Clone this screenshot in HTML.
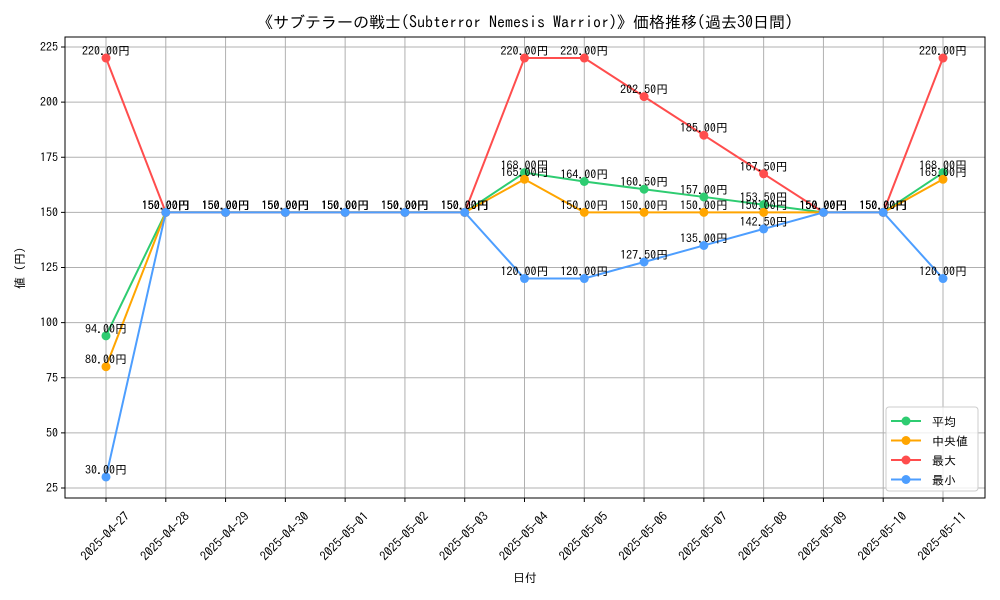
<!DOCTYPE html>
<html><head><meta charset="utf-8"><style>
html,body{margin:0;padding:0;background:#fff;}
svg{display:block;font-family:"IPAGothic","Liberation Sans","Noto Sans CJK JP",sans-serif;}
</style></head><body>
<svg id="chart" width="1000" height="600" xmlns="http://www.w3.org/2000/svg">
<text x="525" y="28" text-anchor="middle" font-size="16">《サブテラーの戦士(Subterror Nemesis Warrior)》価格推移(過去30日間)</text>
<g id="grid"></g><g id="axes"></g><g id="series"></g><g id="labels"></g>
<text x="525" y="582" text-anchor="middle" font-size="12">日付</text>
<text x="0" y="0" transform="translate(24,268) rotate(-90)" text-anchor="middle" font-size="12">値 (円)</text>
<g>
<rect x="886" y="407" width="92" height="84" rx="3" fill="#fff" fill-opacity="0.8" stroke="#ccc"/>
<g id="legend-items"></g>
</g>
</svg>
<script>
const dates=["2025-04-27","2025-04-28","2025-04-29","2025-04-30","2025-05-01","2025-05-02","2025-05-03","2025-05-04","2025-05-05","2025-05-06","2025-05-07","2025-05-08","2025-05-09","2025-05-10","2025-05-11"];
const avgVals=[94,150,150,150,150,150,150,168,164,160.5,157,153.5,150,150,168];
const medVals=[80,150,150,150,150,150,150,165,150,150,150,150,150,150,165];
const maxVals=[220,150,150,150,150,150,150,220,220,202.5,185,167.5,150,150,220];
const minVals=[30,150,150,150,150,150,150,120,120,127.5,135,142.5,150,150,120];
const yTicks=[25,50,75,100,125,150,175,200,225];
const seriesNames=["平均","中央値","最大","最小"];
const ns="http://www.w3.org/2000/svg";
const L=65,R=985,T=37,B=498;
const x=i=>106+i*(943-106)/(dates.length-1);
const y=v=>488-(v-25)*(441/200);
function mk(tag,attrs,parent,text){const e=document.createElementNS(ns,tag);for(const k in attrs)e.setAttribute(k,attrs[k]);if(text!==undefined)e.textContent=text;parent.appendChild(e);return e;}
const grid=document.getElementById('grid'),axes=document.getElementById('axes');
dates.forEach((d,i)=>{
 const g=mk('line',{x1:x(i),x2:x(i),y1:T,y2:B,stroke:'#b0b0b0','stroke-width':1},grid);
 
 
 mk('line',{x1:x(i),x2:x(i),y1:B,y2:B+4,stroke:'#000'},axes);
 const t=mk('text',{x:0,y:0,'font-size':12.5,'text-anchor':'middle','dominant-baseline':'central',transform:`translate(${x(i)-1},${536}) rotate(-45)`},axes,d);
 
 
});
yTicks.forEach(v=>{
 const g=mk('line',{x1:L,x2:R,y1:y(v),y2:y(v),stroke:'#b0b0b0','stroke-width':1},grid);
 
 
 mk('line',{x1:L-4,x2:L,y1:y(v),y2:y(v),stroke:'#000'},axes);
 const t=mk('text',{x:L-7,y:y(v)+4,'font-size':12,'text-anchor':'end'},axes,String(v));
 
 
});
const frame=mk('rect',{x:L,y:T,width:R-L,height:B-T,fill:'none',stroke:'#000','stroke-width':1},axes);


const all=[avgVals,medVals,maxVals,minVals];
const colors=["#2ecc71","#ffa500","#ff4d4d","#4d9eff"];
const sg=document.getElementById('series'),lg=document.getElementById('labels'),li=document.getElementById('legend-items');
all.forEach((vals,s)=>{
 const p=mk('polyline',{points:vals.map((v,i)=>x(i)+','+y(v)).join(' '),fill:'none',stroke:colors[s],'stroke-width':2},sg);
 
 
 vals.forEach((v,i)=>{
  const c=mk('circle',{cx:x(i),cy:y(v),r:4.5,fill:colors[s]},sg);
  
  
  const t=mk('text',{x:x(i),y:y(v)-3,'font-size':12,'text-anchor':'middle'},lg,v.toFixed(2)+'円');
  
  
 });
 const ly=421+s*19.5;
 const e=mk('g',{},li);
 
 
 mk('line',{x1:891,x2:921,y1:ly,y2:ly,stroke:colors[s],'stroke-width':2},e);
 mk('circle',{cx:906,cy:ly,r:4.5,fill:colors[s]},e);
 mk('text',{x:932,y:ly+5,'font-size':12},e,(s==1?' ':'')+seriesNames[s]);
});
</script>
</body></html>
